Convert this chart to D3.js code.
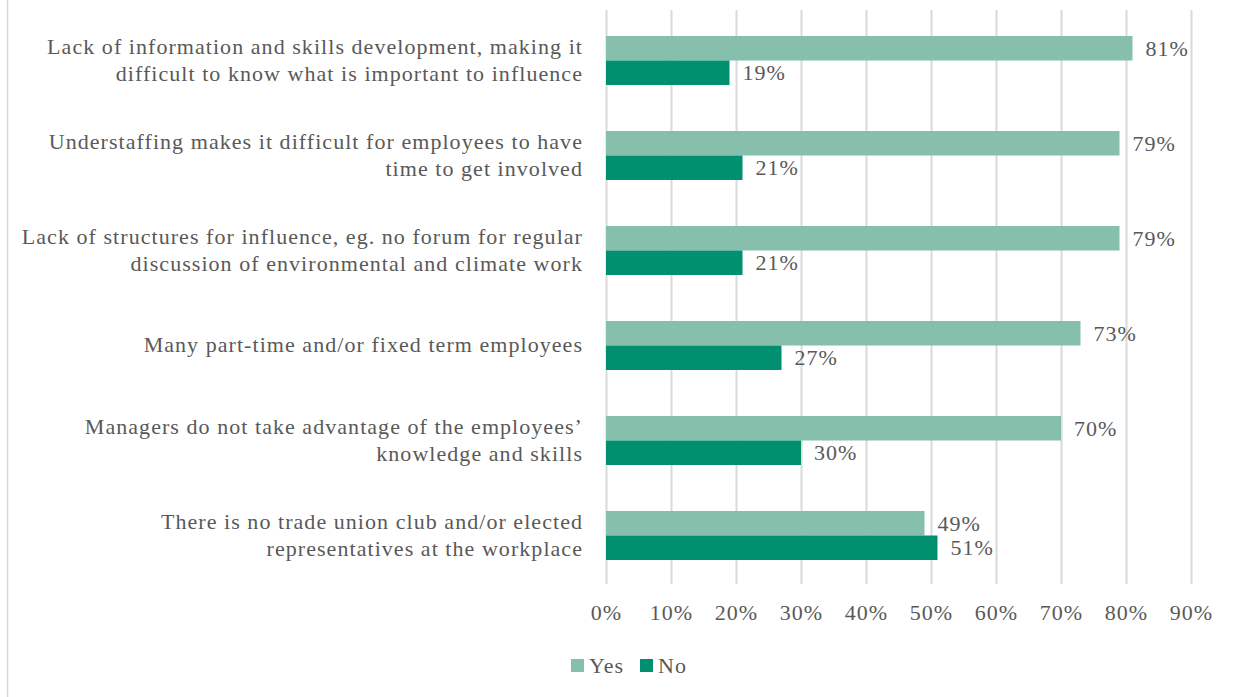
<!DOCTYPE html>
<html>
<head>
<meta charset="utf-8">
<script src="https://cdn.jsdelivr.net/npm/d3@7"></script>
<style>
  html, body { margin: 0; padding: 0; background: #fff; }
  svg { display: block; font-family: "Liberation Serif", "Times New Roman", serif; }
</style>
</head>
<body>
<svg id="chart" width="1236" height="697"></svg>
<script>
// Survey obstacles, share answering Yes / No
const categories = [
  ["Lack of information and skills development, making it", "difficult to know what is important to influence"],
  ["Understaffing makes it difficult for employees to have", "time to get involved"],
  ["Lack of structures for influence, eg. no forum for regular", "discussion of environmental and climate work"],
  ["Many part-time and/or fixed term employees"],
  ["Managers do not take advantage of the employees\u2019", "knowledge and skills"],
  ["There is no trade union club and/or elected", "representatives at the workplace"]
];
const yesValues = [81, 79, 79, 73, 70, 49];
const noValues  = [19, 21, 21, 27, 30, 51];
const tickValues = [0, 10, 20, 30, 40, 50, 60, 70, 80, 90];
const seriesNames = ["Yes", "No"];
const seriesColors = ["#86bfac", "#00906f"];

const svg = d3.select("#chart");
const textColor = "#595959";
const fontSize = 22;
const spacing = "1.05px";

const x = d3.scaleLinear().domain([0, 90]).range([606, 1191]);
const y = d3.scaleBand().domain(d3.range(categories.length)).range([12, 582]);
const barH = 24.5;
const inner = d3.scaleBand().domain([0, 1])
  .range([y.bandwidth() / 2 - barH + 1, y.bandwidth() / 2 + barH + 1]);

// chart-area edge
svg.append("line").attr("x1", 7.5).attr("x2", 7.5).attr("y1", 0).attr("y2", 697)
  .attr("stroke", "#d9d9d9").attr("stroke-width", 1.5);

// vertical gridlines
svg.append("g").selectAll("line").data(tickValues).join("line")
  .attr("x1", d => Math.round(x(d)) + 0.5).attr("x2", d => Math.round(x(d)) + 0.5)
  .attr("y1", 10).attr("y2", 584)
  .attr("stroke", "#d9d9d9").attr("stroke-width", 2);

// bottom axis labels
const axis = d3.axisBottom(x).tickValues(tickValues).tickFormat(d => d + "%").tickSize(0).tickPadding(0);
const axisG = svg.append("g").attr("transform", "translate(0,620)").call(axis);
axisG.select(".domain").remove();
axisG.selectAll("text").attr("font-size", fontSize).attr("fill", textColor)
  .attr("font-family", "Liberation Serif, serif").attr("letter-spacing", spacing).attr("dy", 0);

const data = categories.map((c, i) => ({ i, vals: [yesValues[i], noValues[i]] }));

const groups = svg.append("g").selectAll("g").data(data).join("g")
  .attr("transform", d => `translate(0,${y(d.i)})`);

groups.selectAll("rect").data(d => d.vals.map((v, s) => ({ v, s }))).join("rect")
  .attr("x", x(0))
  .attr("y", d => inner(d.s))
  .attr("width", d => x(d.v) - x(0))
  .attr("height", inner.bandwidth())
  .attr("fill", d => seriesColors[d.s]);

groups.selectAll("text.val").data(d => d.vals.map((v, s) => ({ v, s }))).join("text")
  .attr("class", "val")
  .attr("x", d => x(d.v) + 13)
  .attr("y", d => inner(d.s) + inner.bandwidth() / 2)
  .attr("dy", "0.35em")
  .attr("font-size", fontSize).attr("fill", textColor).attr("letter-spacing", spacing)
  .text(d => d.v + "%");

// category labels
groups.append("text")
  .attr("text-anchor", "end")
  .attr("font-size", fontSize).attr("fill", textColor).attr("letter-spacing", spacing)
  .each(function(d) {
    const lines = categories[d.i];
    const lh = 27;
    const mid = y.bandwidth() / 2;
    const start = mid - (lines.length - 1) * lh / 2;
    d3.select(this).selectAll("tspan").data(lines).join("tspan")
      .attr("x", 583).attr("y", (l, k) => start + k * lh).attr("dy", "0.35em")
      .text(l => l);
  });

// legend
const legend = svg.append("g").attr("transform", "translate(571,665)");
const items = legend.selectAll("g").data(seriesNames).join("g")
  .attr("transform", (d, i) => `translate(${i * 69},0)`);
items.append("rect").attr("x", 0).attr("y", -6).attr("width", 13).attr("height", 13)
  .attr("fill", (d, i) => seriesColors[i]);
items.append("text").attr("x", 18).attr("y", 0).attr("dy", "0.35em")
  .attr("font-size", fontSize).attr("fill", textColor).attr("letter-spacing", spacing).text(d => d);
</script>
</body>
</html>
